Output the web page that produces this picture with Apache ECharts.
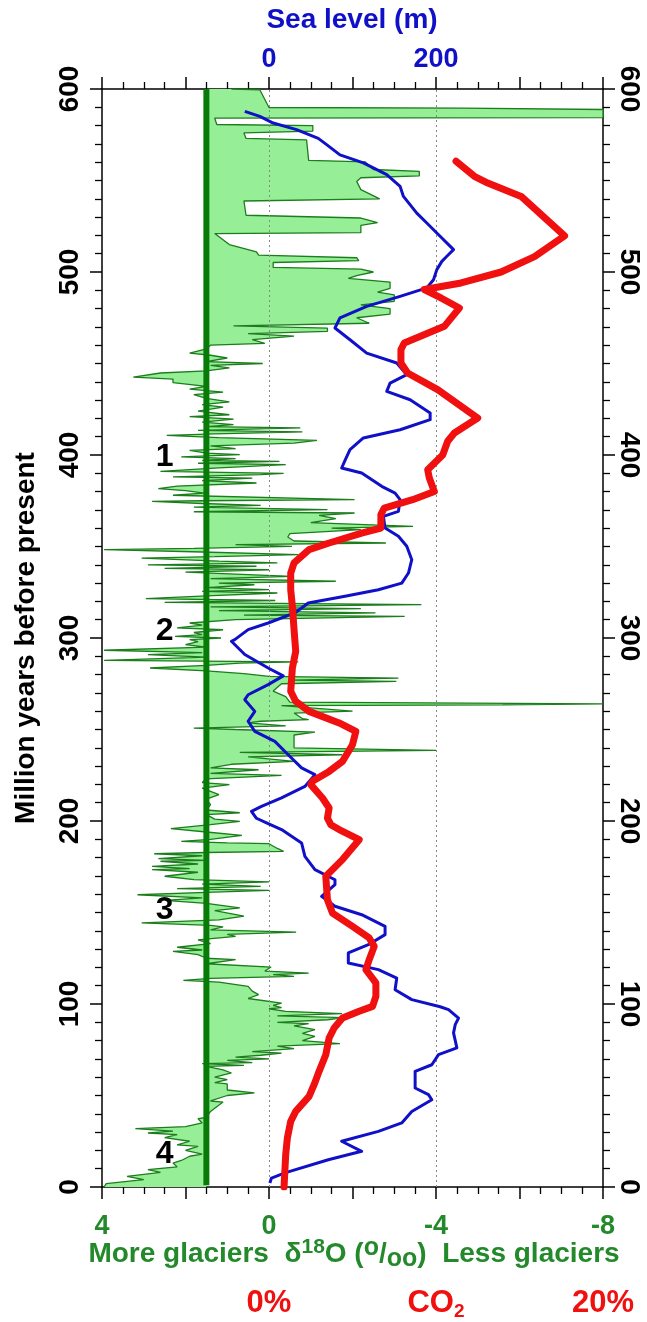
<!DOCTYPE html>
<html>
<head>
<meta charset="utf-8">
<script src="https://cdn.jsdelivr.net/npm/echarts@6/dist/echarts.min.js"></script>
<style>
html,body{margin:0;padding:0;background:#ffffff;}
#chart{width:647px;height:1322px;}
</style>
</head>
<body>
<div id="chart"></div>
<script>
// ---------------- DATA ----------------
// time axis ticks (million years before present)
const timeTicks = [0, 100, 200, 300, 400, 500, 600];
// δ18O record: [Myr, δ18O per mil]
const d18oData = [
[600,0.9],[599.6,0.22],[589.9,0.0],[589.6,-4.65],[588.8,-8],[584.4,-8],[584.1,1.3],[580.6,1.25],[580,-1.05],[577,-1.05],[576,0.6],[573,0.55],[572.2,-0.9],[561,-0.95],[560.2,-2.3],[556,-2.5],[555,-3.6],[552.5,-3.6],[551.5,-2.2],[549.5,-2.1],[545,-2.2],[540,-2.65],[538.8,0.6],[531,0.55],[529.5,-2.2],[527,-2.6],[525.5,-2.2],[521.5,-2.2],[521,1.3],[515,0.95],[511,0.3],[509.2,0.25],[507.8,-2.1],[506.2,-2.15],[505.2,-0.1],[502.5,-0.1],[501.6,-2.2],[500,-2.5],
[498,-2.1],[496.5,-1.9],[494.5,-2.9],[491,-2.9],[489,-2.6],[487.5,-3.0],[484,-3.0],[482,-2.2],[480,-2.9],[477,-2.9],[475,-2.1],[472,-2.4],[470.6,0.85],[469.3,-1.4],[467.6,-1.4],[466.3,0.5],[465,-0.6],[463,0.4],[461,0.1],[460,1.4],
[458,1.5],[455.7,1.9],[454.5,1.4],[453,1.0],[451,1.5],[450,0.15],[449,1.4],[447.6,0.95],[446,1.5],[444.8,2.6],[442.6,3.25],[441.5,2.3],[439.5,2.3],[437.5,1.5],[436,1.9],[434.4,1.1],[433,1.8],[431,1.5],[429,0.95],[427.5,1.6],[426.2,1.1],[424,1.7],[422,0.95],[421,1.9],[419.6,0.85],[418,1.6],[416.6,0.85],[415.5,1.5],[414.8,-0.75],[413.5,1.7],[412.6,-0.8],[411.5,1.3],[410.7,2.45],[409.5,1.2],[408,-1.15],[406.5,-0.6],[405,1.4],[403.5,0.8],[402.5,1.9],[401,1.5],[400.2,0.7],
[399,2.1],[398,0.8],[397,1.6],[396.5,-0.25],[395.5,1.7],[394.7,-0.4],[393,1.2],[391,2.6],[390,-0.35],[389.3,0.2],[388,2.3],[387.4,0.4],[386,1.6],[384.7,0.3],[383,2.2],[381.6,2.65],[380.5,2.0],[379.2,1.55],[378,2.3],[375.6,-2.05],[375,1.6],[374.7,2.8],[373.5,1.6],[372.5,0.2],[371.5,1.8],[370.1,-1.4],[369,1.8],[368.3,-2.05],[367,-1.2],[365.2,-1.6],[363,-1.0],[361,-3.45],[360,-1.5],[359.2,-2.2],[357,-0.5],[355.2,-0.45],[353,-0.6],[351.9,-2.8],[351,0.8],[350.1,-0.55],[349,1.8],[348.3,3.95],[347,1.6],[345.6,-0.7],[344.5,1.3],[343.7,3.05],[342,1.2],[341,-0.2],[340,2.9],[339.2,0.3],[338,2.5],[337.3,0.0],[336,2.0],[333.7,-0.55],[332.5,1.4],[331,-1.6],[330,1.2],[329.1,0.35],[327.5,1.5],[326.4,0.0],[325.5,1.6],[324.6,-0.2],[323,1.5],[321.5,2.95],[320.5,-0.15],[319.5,2.5],[318.2,-3.65],[317,1.4],[316,-2.2],[315,1.2],[313.7,-2.55],[312.5,0.6],[311.8,-3.25],[310,0.8],[308.2,1.9],[307,1.6],[305.5,2.2],[304.5,1.1],[303,1.8],[301.8,1.6],
[300.9,2.25],[300,1.15],[299.1,1.9],[298,1.7],[296.4,2.0],[295,1.5],[293.3,3.95],[292,1.6],[290.9,2.9],[289.5,1.5],[287.8,3.95],[287,-0.7],[286.3,0.7],[285,1.5],[283.6,2.85],[282,1.5],[280.5,0.6],[279,0.0],[278.1,-3.1],[277,-0.5],[276.3,-3.05],[275,-0.3],[271,-0.1],[268,-0.4],[265,-0.5],[264,-8],[263.5,-5.6],[263,-0.3],[260,-2.0],[259,-0.6],[256,-0.8],[255.4,-0.95],[254.5,0.2],[253.6,0.5],[252,-0.4],[250.8,1.8],[250,0.8],[248.6,-1.1],[247,-0.6],[243.5,-0.6],[240,-0.6],[238.6,-4.0],[237.5,0.7],[236.2,-1.75],[235,0.5],[232.6,-0.6],[231,0.9],[229,1.4],[228,0.25],[226,1.4],[224.9,-0.3],[223,1.5],[221,1.6],[219.9,0.95],[218,1.6],[214.4,1.2],[212,1.5],[208.9,1.4],[206,1.5],[204.5,0.7],[203.5,1.5],[201,1.3],
[199.8,0.7],[198,1.4],[195.8,2.35],[194,1.5],[192.2,0.65],[190,1.4],[188.9,2.1],[188,1.0],[187.6,0.0],[185,-0.2],[183.4,-0.35],[182.8,1.5],[182.1,2.75],[181,1.6],[179.4,2.65],[178.5,1.5],[178,2.6],[176.5,1.7],[175.2,2.8],[174,1.9],[173.4,2.8],[172,1.7],[169.8,2.5],[168,1.8],[166.7,0.0],[165.5,1.6],[164.3,0.2],[163,2.2],[162.1,0.0],[161,1.5],[159.7,3.15],[158,1.6],[156.6,2.5],[155,1.5],[152.5,0.7],[151,1.3],[148,0.6],[146,1.2],[144.3,3.05],[143,1.4],[142.1,1.1],[140.5,1.4],[139.3,-0.65],[138,1.0],[137,0.8],[135,1.7],[133,1.4],[131,2.2],[129.5,1.6],[128.8,2.3],[127,1.7],[125,1.5],[124.2,0.8],[122,1.5],[120.2,-0.05],[118,0.1],[116.9,-0.95],[116,-0.1],[115.1,-0.6],[114,1.4],[112.9,2.05],[112,1.2],[109.6,0.5],[107,0.4],[105.1,0.25],[103,0.5],[100.5,-0.3],
[99.3,-0.1],[98,-0.3],[97.4,0.0],[96,-0.4],[94.7,-1.75],[93.5,-0.2],[92.5,-1.8],[91.4,-1.4],[90,-0.2],[89.3,-0.95],[88,-0.6],[86,-1.1],[84,-0.8],[82.3,-1.1],[80,-0.8],[78.3,-1.7],[77,-0.2],[75.6,-0.6],[74,0.4],[73.2,-0.3],[72,0.2],[71,0.8],[70,0.0],[69.2,1.0],[68,0.4],[67.4,1.6],[66.5,0.6],[65.9,1.5],[64,1.1],[62.3,0.9],[60,1.3],[58.7,1.0],[57,1.3],[56.3,1.0],[53,1.0],[51.4,0.35],[50,1.0],[47,1.4],[46.4,1.1],[43,1.3],[41.3,1.4],[38,1.5],[37.3,1.7],[35,1.6],[33,2.0],[31.9,3.2],[30.5,2.3],[29.5,2.9],[28.6,2.2],[27,2.5],[25,1.9],[23,2.2],[22.2,1.7],[20,2.0],[18,1.6],[16.8,1.9],[14.5,2.1],[13.1,2.3],[11,2.2],[9.5,2.9],[8,2.6],[5.8,3.4],[4,3.0],[1.8,3.9],[0,3.95]
];
// δ18O reference level (thick green line) and its time span
const d18oBaseline = 1.5;
const baselineSpan = [1, 600];
// sea level: [Myr, metres]
const seaLevelData = [
[587.8,-29],[585,-11],[581.4,5],[577.8,33],[573,59],[569.6,69],[564,85],[559.6,113],[553.2,141],[546.8,157],[541.3,161],[532.2,177],[526.8,189],[521.3,201],[512.2,221],[508.6,213],[505.8,207],[501.3,201],[495.8,197],[491.3,189],[486.7,157],[481.2,117],[474.9,85],[469.4,79],[463,97],[455.7,117],[450.3,153],[443.9,165],[439.3,145],[434.8,141],[430.2,169],[422.9,193],[419.3,193],[413.8,157],[409.3,113],[402.9,97],[398,92],[392.9,87],[390.2,111],[382.9,135],[379.2,151],[375.6,157],[369.2,155],[366.5,137],[360.1,139],[355.6,155],[350.1,165],[342.8,171],[335.5,167],[330,159],[326.4,131],[322.8,91],[319.1,47],[313.7,31],[308.2,-1],[304.6,-25],[299.1,-41],[298.2,-45],[291,-29],[283.6,-1],[279.3,17],[274.5,-1],[269,-25],[266.3,-29],[259.9,-17],[254.5,-25],[249,-17],[243.5,7],[236.2,23],[229,39],[225.3,55],[218.9,43],[212.6,15],[208,-9],[205.3,-21],[201.5,-15],[199,-3],[195.3,15],[188,39],[180.7,43],[173.4,55],[167.9,79],[165.2,79],[158.8,63],[153.4,79],[148.8,111],[142.4,139],[137.9,139],[132.4,119],[127.9,95],[122.4,95],[118.8,131],[114.2,153],[107.8,151],[102.4,171],[98.5,205],[96.9,215],[92.3,227],[88.7,223],[84.2,221],[76,225],[72.3,203],[66.8,195],[63.2,175],[54.1,175],[50.5,191],[47.7,195],[41.3,171],[35,159],[30.4,131],[25,87],[19.5,111],[14.9,71],[7.7,19],[4.9,3],[2.2,1]
];
// CO2: [Myr, percent]
const co2Data = [
[560.5,11.2],[552.3,12.3],[548.6,13.1],[541.3,15.1],[519.7,17.7],[508.4,15.9],[500,13.9],[494,11.5],[490.4,9.3],[485.8,10.3],[480.3,11.4],[470.3,10.5],[461.2,8.1],[457.6,7.9],[450.3,7.9],[444.8,8.3],[435.7,10.1],[420.2,12.5],[412,11.1],[407.5,10.7],[400,10.4],[392,9.5],[387.4,9.6],[380.1,9.9],[375.6,8.6],[371,6.9],[367.4,6.7],[360.1,6.7],[357.4,5.6],[351.9,3.6],[348.3,2.4],[341,1.5],[335.5,1.3],[326.4,1.3],[317.3,1.4],[304.6,1.5],[292.7,1.6],[283.6,1.4],[270.9,1.3],[265.4,1.6],[259.9,2.4],[253.6,4.2],[249,5.2],[241.7,5.0],[232.6,4.4],[227.1,3.6],[221.7,2.6],[219.9,2.5],[212.6,3.2],[207.1,3.6],[201.6,3.5],[198,3.7],[195.3,4.2],[189.8,5.4],[178.9,4.4],[169.8,3.4],[157,3.5],[149.7,3.8],[142.4,5.0],[136.1,6.0],[131.5,6.3],[124.2,6.0],[118.8,5.8],[111.5,6.4],[104.2,6.4],[98.7,6.2],[96,5.4],[92.3,4.4],[86.9,3.9],[81.4,3.6],[72.3,3.4],[63.2,3.0],[55.9,2.7],[49.5,2.4],[41.3,1.6],[35.9,1.3],[26.8,1.1],[17.7,1.0],[0,0.9]
];
// tick labels
const d18oTickLabels = [4, 0, -4, -8];
const seaTickLabels = [0, 200];
const co2TickLabels = { 0: '0%', 10: 'CO2', 20: '20%' };
// dotted reference lines (δ18O values)
const d18oGuides = [0, -4];
// era numbers: [label, Myr]
const eraLabels = [['1', 399], ['2', 304], ['3', 151], ['4', 18]];
const eraLabelD18O = 2.5;

// ---------------- STYLE ----------------
const FONT = '"Liberation Sans", Arial, Helvetica, sans-serif';
const GREEN_TXT = '#23892a';
const GREEN_LINE = '#1b7d1b';
const GREEN_BASE = '#087a08';
const GREEN_FILL = '#96ee96';
const BLUE = '#1010c8';
const RED = '#f01010';

const chart = echarts.init(document.getElementById('chart'), null, { renderer: 'canvas' });

const axisLineStyle = { color: '#000', width: 1.5 };
const option = {
  animation: false,
  backgroundColor: '#ffffff',
  grid: { left: 102, top: 89, width: 501, height: 1098, containLabel: false, outerBoundsMode: 'none' },
  xAxis: [
    { // δ18O bottom axis
      type: 'value', position: 'bottom', min: -8, max: 4, interval: 2, inverse: true,
      axisLine: { show: true, onZero: false, lineStyle: axisLineStyle },
      axisTick: { show: true, length: 12, lineStyle: { color: '#000', width: 1.5 } },
      minorTick: { show: true, splitNumber: 4, length: 7, lineStyle: { color: '#000', width: 1.3 } },
      splitLine: { show: false }, minorSplitLine: { show: false },
      axisLabel: {
        show: true, margin: 26, color: GREEN_TXT, fontSize: 27, fontWeight: 'bold', fontFamily: FONT,
        showMinLabel: true, showMaxLabel: true, hideOverlap: false,
        formatter: v => d18oTickLabels.includes(v) ? String(v) : ''
      }
    },
    { // sea level top axis
      type: 'value', position: 'top', min: -200, max: 400, interval: 100,
      axisLine: { show: true, onZero: false, lineStyle: axisLineStyle },
      axisTick: { show: true, length: 12, lineStyle: { color: '#000', width: 1.5 } },
      minorTick: { show: true, splitNumber: 4, length: 7, lineStyle: { color: '#000', width: 1.3 } },
      splitLine: { show: false },
      axisLabel: {
        show: true, margin: 16, color: BLUE, fontSize: 27, fontWeight: 'bold', fontFamily: FONT,
        showMinLabel: true, showMaxLabel: true, hideOverlap: false,
        formatter: v => seaTickLabels.includes(v) ? String(v) : ''
      }
    },
    { // CO2 axis (labels only)
      type: 'value', position: 'bottom', min: -10, max: 20, interval: 10,
      axisLine: { show: false, onZero: false }, axisTick: { show: false }, splitLine: { show: false },
      axisLabel: {
        show: true, margin: 98, color: RED, fontFamily: FONT,
        showMinLabel: true, showMaxLabel: true, hideOverlap: false,
        formatter: v => {
          const s = co2TickLabels[v];
          if (!s) return '';
          if (s === 'CO2') return '{r|CO}{s|2}';
          return '{r|' + s + '}';
        },
        rich: {
          r: { fontSize: 31, fontWeight: 'bold', color: RED, fontFamily: FONT, lineHeight: 36 },
          s: { fontSize: 19, fontWeight: 'bold', color: RED, fontFamily: FONT, lineHeight: 36, verticalAlign: 'bottom', padding: [12, 0, 0, 0] }
        }
      }
    }
  ],
  yAxis: [
    {
      type: 'value', position: 'left', min: 0, max: 600, interval: 100,
      name: 'Million years before present', nameLocation: 'middle', nameGap: 62, nameRotate: 90,
      nameTextStyle: { color: '#000', fontSize: 28, fontWeight: 'bold', fontFamily: FONT },
      axisLine: { show: true, onZero: false, lineStyle: axisLineStyle },
      axisTick: { show: true, length: 12, lineStyle: { color: '#000', width: 1.5 } },
      minorTick: { show: true, splitNumber: 10, length: 7, lineStyle: { color: '#000', width: 1.3 } },
      splitLine: { show: false },
      axisLabel: {
        show: true, rotate: 90, margin: 18, color: '#000', fontSize: 28, fontWeight: 'bold', fontFamily: FONT,
        showMinLabel: true, showMaxLabel: true, hideOverlap: false,
        formatter: v => timeTicks.includes(v) ? String(v) : ''
      }
    },
    {
      type: 'value', position: 'right', min: 0, max: 600, interval: 100,
      axisLine: { show: true, onZero: false, lineStyle: axisLineStyle },
      axisTick: { show: true, length: 12, lineStyle: { color: '#000', width: 1.5 } },
      minorTick: { show: true, splitNumber: 10, length: 7, lineStyle: { color: '#000', width: 1.3 } },
      splitLine: { show: false },
      axisLabel: {
        show: true, rotate: -90, margin: 12, color: '#000', fontSize: 28, fontWeight: 'bold', fontFamily: FONT,
        showMinLabel: true, showMaxLabel: true, hideOverlap: false,
        formatter: v => timeTicks.includes(v) ? String(v) : ''
      }
    }
  ],
  series: [
    { // fill between δ18O curve and reference level
      type: 'custom', name: 'fill', xAxisIndex: 0, yAxisIndex: 0, clip: true, silent: true, z: 1,
      data: [[d18oBaseline, baselineSpan[1]]],
      renderItem: (params, api) => {
        const pts = d18oData.map(([t, d]) => api.coord([d, t]));
        pts.push(api.coord([d18oBaseline, d18oData[d18oData.length - 1][0]]));
        pts.push(api.coord([d18oBaseline, d18oData[0][0]]));
        return { type: 'polygon', shape: { points: pts }, style: { fill: GREEN_FILL, stroke: null } };
      }
    },
    { // δ18O curve
      type: 'line', name: 'd18O', xAxisIndex: 0, yAxisIndex: 0, z: 3, silent: true,
      symbol: 'none', data: d18oData.map(([t, d]) => [d, t]),
      lineStyle: { color: GREEN_LINE, width: 1.3 }
    },
    { // reference level + dotted guides
      type: 'line', name: 'base', xAxisIndex: 0, yAxisIndex: 0, z: 4, silent: true,
      symbol: 'none', data: baselineSpan.map(t => [d18oBaseline, t]),
      lineStyle: { color: GREEN_BASE, width: 6 },
      markLine: {
        silent: true, symbol: ['none', 'none'], label: { show: false },
        lineStyle: { color: '#888', width: 1, type: [2, 3] },
        data: d18oGuides.map(v => ({ xAxis: v }))
      }
    },
    { // sea level
      type: 'line', name: 'sea', xAxisIndex: 1, yAxisIndex: 0, z: 5, silent: true,
      symbol: 'none', data: seaLevelData.map(([t, m]) => [m, t]),
      lineStyle: { color: BLUE, width: 3, join: 'round' }
    },
    { // CO2
      type: 'line', name: 'co2', xAxisIndex: 2, yAxisIndex: 0, z: 6, silent: true,
      symbol: 'none', data: co2Data.map(([t, c]) => [c, t]),
      lineStyle: { color: RED, width: 7, join: 'round', cap: 'round' }
    },
    { // era numbers
      type: 'scatter', name: 'eras', xAxisIndex: 0, yAxisIndex: 0, z: 7, silent: true,
      symbolSize: 1, itemStyle: { color: 'rgba(255,255,255,0)', opacity: 1 },
      data: eraLabels.map(([s, t]) => ({ name: s, value: [eraLabelD18O, t] })),
      label: { show: true, position: 'inside', formatter: p => p.name, color: '#000', opacity: 1, fontSize: 32, fontWeight: 'bold', fontFamily: FONT },
      emphasis: { disabled: true }
    }
  ],
  graphic: [
    {
      type: 'text', x: 352, y: 20, silent: true,
      style: { text: 'Sea level (m)', fill: BLUE, font: 'bold 28px ' + FONT, align: 'center', verticalAlign: 'middle' }
    },
    {
      type: 'text', x: 354, y: 1254, silent: true,
      style: {
        text: '{a|More glaciers  δ}{u|18}{a|O (}{u2|o}{a|/}{d|oo}{a|)  Less glaciers}',
        align: 'center', verticalAlign: 'middle',
        rich: {
          a: { fill: GREEN_TXT, font: 'bold 28px ' + FONT, lineHeight: 36, verticalAlign: 'middle' },
          u: { fill: GREEN_TXT, font: 'bold 21px ' + FONT, lineHeight: 36, verticalAlign: 'top', padding: [1, 0, 0, 0] },
          u2: { fill: GREEN_TXT, font: 'bold 25px ' + FONT, lineHeight: 36, verticalAlign: 'top', padding: [0, 0, 0, 0] },
          d: { fill: GREEN_TXT, font: 'bold 25px ' + FONT, lineHeight: 36, verticalAlign: 'bottom', padding: [0, 0, 0, 0] }
        }
      }
    }
  ]
};
chart.setOption(option);
</script>
</body>
</html>
